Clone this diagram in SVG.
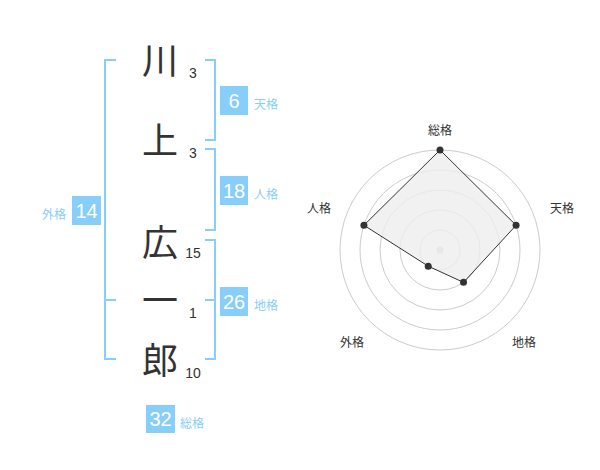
<svg xmlns="http://www.w3.org/2000/svg" width="600" height="470" viewBox="0 0 600 470">
<style>
.ch{font-family:"Noto Sans CJK JP","Noto Sans CJK SC",sans-serif;font-size:36px;fill:#333;text-anchor:middle}
.num{font-family:"Liberation Sans",Arial,sans-serif;font-size:14px;fill:#333;text-anchor:middle}
.br{fill:none;stroke:#87cefa;stroke-width:2}
.box{fill:#87cefa}
.bn{font-family:"Liberation Sans",Arial,sans-serif;font-size:20px;fill:#fff;text-anchor:middle}
.bl{font-family:"Noto Sans CJK JP","Noto Sans CJK SC",sans-serif;font-size:12px;fill:#87cefa}
.rl{font-family:"Noto Sans CJK JP","Noto Sans CJK SC",sans-serif;font-size:12px;fill:#333;text-anchor:middle}
.ring{fill:none;stroke:#ccc;stroke-width:1}
</style>
<rect width="600" height="470" fill="#fff"/>
<g id="chars">
<text class="ch" x="160" y="74">川</text>
<text class="ch" x="160" y="154">上</text>
<text class="ch" x="160" y="256">広</text>
<text class="ch" x="160" y="314">一</text>
<text class="ch" x="160" y="374">郎</text>
<text class="num" x="193" y="78">3</text>
<text class="num" x="193" y="158">3</text>
<text class="num" x="193" y="258">15</text>
<text class="num" x="193" y="318">1</text>
<text class="num" x="193" y="378">10</text>
</g>
<g id="connectors">
<path class="br" d="M116,60 H105 V359 H116 M105,300 H116"/>
<path class="br" d="M205,60 H215 V140 H205"/>
<path class="br" d="M205,149 H215 V230 H205"/>
<path class="br" d="M205,240 H215 V359 H205 M205,300 H215"/>
</g>
<g id="tenkaku">
<rect class="box" x="220" y="86" width="28" height="29"/>
<text class="bn" x="234" y="108">6</text>
<text class="bl" x="254" y="109">天格</text>
</g>
<g id="jinkaku">
<rect class="box" x="220" y="176" width="28" height="29"/>
<text class="bn" x="234" y="198">18</text>
<text class="bl" x="254" y="199">人格</text>
</g>
<g id="chikaku">
<rect class="box" x="220" y="287" width="28" height="29"/>
<text class="bn" x="234" y="309">26</text>
<text class="bl" x="254" y="310">地格</text>
</g>
<g id="gaikaku">
<rect class="box" x="72" y="196" width="29" height="29"/>
<text class="bn" x="86.5" y="218">14</text>
<text class="bl" x="42" y="219">外格</text>
</g>
<g id="soukaku">
<rect class="box" x="146" y="405" width="29" height="28"/>
<text class="bn" x="160.5" y="426">32</text>
<text class="bl" x="180" y="428">総格</text>
</g>
<g id="radar">
<circle class="ring" cx="440" cy="250" r="20"/>
<circle class="ring" cx="440" cy="250" r="40"/>
<circle class="ring" cx="440" cy="250" r="60"/>
<circle class="ring" cx="440" cy="250" r="80"/>
<circle class="ring" cx="440" cy="250" r="100"/>
<circle cx="440" cy="250" r="3.5" fill="#ccc"/>
<polygon points="440,150 516.08,225.28 463.51,282.36 428.24,266.18 363.92,225.28" fill="#eee" fill-opacity="0.8" stroke="#333" stroke-width="1"/>
<g fill="#333">
<circle cx="440" cy="150" r="3.5"/>
<circle cx="516.08" cy="225.28" r="3.5"/>
<circle cx="463.51" cy="282.36" r="3.5"/>
<circle cx="428.24" cy="266.18" r="3.5"/>
<circle cx="363.92" cy="225.28" r="3.5"/>
</g>
<text class="rl" x="440" y="134.5">総格</text>
<text class="rl" x="562" y="212.5">天格</text>
<text class="rl" x="319" y="212.5">人格</text>
<text class="rl" x="352" y="346.5">外格</text>
<text class="rl" x="524" y="346.5">地格</text>
</g>
</svg>
